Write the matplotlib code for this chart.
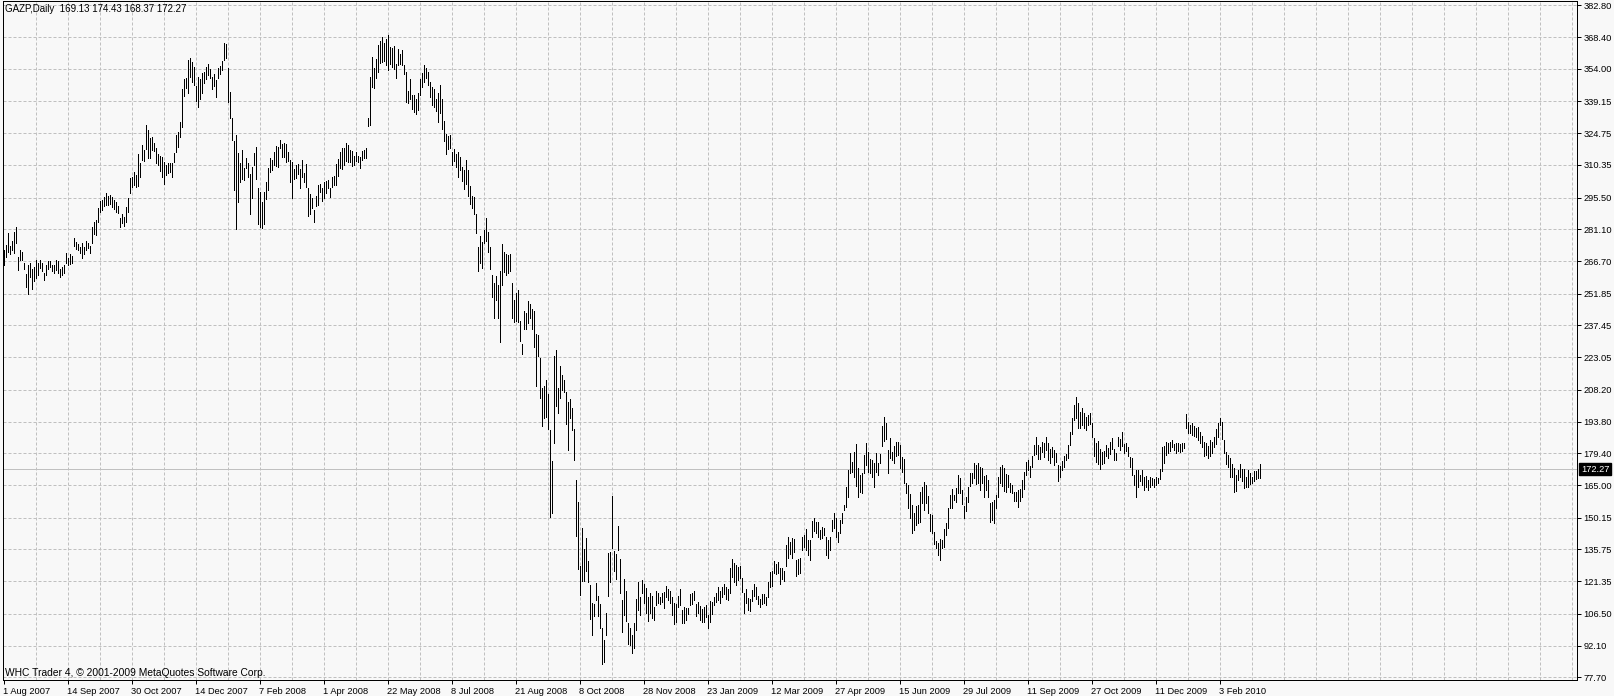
import matplotlib
matplotlib.use("Agg")
import matplotlib.pyplot as plt
from matplotlib.transforms import blended_transform_factory
import numpy as np

# ---------------- data (daily bars, high / low) ----------------
high_a = [271.7, 274.0, 279.3, 273.5, 275.9, 280.0, 282.3, 268.7, 271.7, 270.9,
          266.0, 260.8, 264.9, 265.7, 262.9, 264.1, 267.2, 266.0, 267.2, 265.7,
          261.1, 264.9, 266.7, 266.7, 264.9, 264.7, 267.2, 266.9, 262.9, 264.1,
          264.9, 270.5, 268.2, 269.9, 269.0, 277.0, 275.5, 274.3, 273.2, 274.7,
          273.2, 275.9, 274.7, 273.5, 282.3, 284.6, 285.3, 290.6, 294.1, 294.4,
          295.9, 297.4, 296.2, 296.7, 295.6, 294.4, 293.7, 291.7, 286.1, 288.1,
          286.8, 291.4, 295.2, 304.2, 305.0, 307.3, 305.8, 315.3, 311.1, 319.4,
          317.1, 328.5, 326.2, 322.4, 322.9, 320.1, 317.9, 315.3, 314.4, 314.1,
          311.8, 310.3, 311.4, 311.1, 311.4, 315.9, 323.9, 325.4, 330.0, 344.7,
          349.2, 349.9, 358.0, 358.7, 357.2, 354.6, 346.2, 350.4, 349.2, 351.9,
          352.7, 354.6, 356.2, 353.7, 350.4]
low_a = [264.9, 268.7, 270.9, 269.9, 271.7, 270.2, 274.7, 262.6, 267.2, 267.2,
         262.9, 254.8, 251.7, 259.6, 253.9, 257.8, 258.9, 260.4, 263.4, 262.3,
         258.1, 260.4, 262.9, 263.8, 262.3, 261.4, 262.6, 261.4, 259.6, 260.4,
         261.1, 266.0, 264.7, 265.4, 266.0, 273.5, 272.0, 271.7, 270.5, 267.9,
         269.9, 271.7, 272.5, 270.2, 274.7, 279.0, 278.7, 284.6, 289.1, 289.9,
         291.7, 292.1, 292.1, 292.6, 291.4, 290.2, 289.1, 288.4, 282.0, 283.8,
         282.6, 284.6, 289.1, 297.7, 300.5, 301.2, 300.5, 300.8, 305.0, 312.6,
         312.3, 317.4, 313.3, 313.3, 317.1, 316.8, 311.1, 310.3, 307.7, 305.0,
         301.7, 305.8, 306.5, 307.3, 304.7, 311.8, 316.4, 318.6, 323.2, 327.7,
         341.6, 345.1, 343.1, 350.4, 348.1, 346.6, 339.5, 336.5, 340.1, 342.8,
         347.4, 349.2, 351.2, 349.7, 344.7]

high_b = [351.5, 348.9, 354.5, 355.4, 357.5,
          365.5, 365.1, 354.5, 343.6, 331.5, 321.2, 323.9, 315.6, 311.1, 317.1,
          308.8, 313.3, 311.1, 306.0, 309.5, 315.6, 318.6, 300.0, 298.2, 293.7,
          298.2, 302.7, 308.8, 313.6, 312.6, 316.4, 319.1, 318.6, 321.6, 319.7,
          320.1, 319.7, 316.4, 312.6, 311.5, 308.5, 310.3, 310.6, 308.5, 312.6,
          306.5, 310.6, 299.7, 297.0, 295.2, 289.9, 296.4, 301.2, 301.5, 299.7,
          302.4, 303.0, 303.5, 300.0, 305.0, 305.5, 310.6, 313.0, 316.0, 318.2,
          317.9, 320.1, 319.4, 317.1, 316.7, 314.5, 316.4, 314.5, 314.1, 316.7,
          317.0, 317.9, 331.5, 350.4, 359.5, 354.5, 358.4, 364.8, 366.6, 368.6,
          365.5, 367.5, 369.3, 364.0, 363.3, 364.5, 356.0, 363.0, 360.5, 362.5,
          355.7, 352.7, 343.9, 349.3, 342.1, 342.1, 340.3, 342.8, 349.3, 351.9]
low_b = [346.3, 341.3, 349.9, 351.5, 353.4,
         358.0, 358.7, 339.0, 331.5, 321.6, 299.0, 281.2, 293.4, 302.7, 303.9,
         303.5, 308.8, 305.0, 287.9, 295.2, 310.3, 303.9, 283.4, 282.3, 281.5,
         283.4, 294.9, 299.0, 307.0, 308.0, 310.3, 310.0, 309.5, 317.9, 314.1,
         314.1, 311.8, 312.1, 302.7, 295.2, 303.9, 304.2, 306.1, 299.7, 305.0,
         302.7, 300.5, 287.3, 287.9, 290.6, 284.3, 291.9, 292.1, 298.2, 294.1,
         295.2, 297.4, 299.7, 295.9, 300.5, 301.2, 301.2, 305.5, 308.8, 308.5,
         310.3, 312.1, 311.8, 311.8, 310.0, 310.3, 312.1, 311.5, 309.1, 312.6,
         313.6, 313.6, 328.2, 328.5, 345.9, 345.1, 349.6, 352.7, 356.5, 357.2,
         357.5, 355.7, 353.4, 356.0, 355.0, 353.9, 349.6, 355.7, 356.0, 355.7,
         351.5, 339.0, 338.3, 340.3, 335.7, 334.2, 333.3, 335.3, 342.1, 345.9]

high_c = [355.7, 354.4, 352.6, 347.8, 345.5, 344.6, 340.1, 343.1, 346.4, 340.1,
          330.2, 324.4, 323.4, 323.9, 316.2, 317.6, 315.5, 316.2, 313.7, 309.4,
          307.8, 312.6, 307.8, 300.6, 296.1, 295.7, 288.0, 273.1, 278.1, 275.4,
          280.8, 286.2, 279.9, 273.1, 260.2, 256.6, 259.8, 255.7, 262.0, 274.2,
          270.9, 270.0, 269.5, 270.0, 256.9, 249.0, 252.1, 253.4, 239.5, 228.8,
          244.0, 243.1, 248.5, 247.3, 244.9, 244.0, 233.6, 233.3, 222.8, 209.0,
          209.9, 212.6, 206.3, 189.8, 175.8, 223.4, 226.1, 209.0, 218.9, 214.9,
          212.6, 207.2, 202.7, 204.2, 200.0, 190.5, 167.2, 157.5, 128.2, 145.3,
          135.9, 140.8, 130.5, 119.8, 111.5, 111.2, 120.5, 114.8, 111.2, 100.0,
          94.6, 106.7, 134.1, 134.5, 160.0, 134.9, 133.6, 146.2, 131.3, 112.6,
          122.3, 116.9, 102.2, 100.0, 96.8]
low_c = [347.8, 349.9, 346.7, 341.3, 337.4, 336.5, 334.7, 329.8, 333.8, 326.6,
         321.2, 315.5, 317.6, 318.0, 310.1, 311.9, 309.5, 304.7, 307.8, 302.9,
         299.3, 301.8, 296.1, 292.5, 290.7, 288.0, 279.6, 262.3, 265.6, 263.4,
         274.9, 276.0, 270.6, 262.9, 250.3, 240.8, 249.0, 240.8, 230.0, 255.7,
         261.6, 260.2, 261.1, 262.0, 240.8, 239.0, 239.5, 239.0, 230.5, 224.6,
         235.9, 235.9, 238.6, 240.8, 235.9, 227.5, 209.9, 223.4, 204.5, 191.6,
         195.2, 195.9, 190.5, 150.3, 152.5, 183.9, 200.9, 197.7, 204.5, 208.1,
         207.2, 192.9, 180.8, 195.5, 189.8, 176.2, 141.7, 127.0, 115.1, 121.6,
         121.6, 125.9, 121.0, 104.0, 96.8, 105.4, 113.0, 105.4, 100.0, 83.9,
         84.6, 96.8, 114.8, 121.0, 136.3, 125.9, 122.3, 135.4, 116.2, 98.2,
         106.1, 103.1, 92.9, 92.3, 88.7]

high_d = [102.5, 113.1, 121.1, 114.3, 121.9,
          120.1, 118.1, 114.3, 115.8, 114.6, 109.5, 117.0, 115.8, 114.0, 116.1,
          116.6, 119.2, 117.6, 117.0, 114.0, 111.3, 111.0, 114.6, 117.6, 108.3,
          109.5, 109.0, 109.0, 115.5, 116.1, 117.0, 111.0, 112.0, 110.1, 108.6,
          109.8, 110.5, 106.0, 112.5, 112.0, 114.3, 115.8, 118.5, 117.0, 118.9,
          120.1, 118.5, 117.6, 127.2, 131.3, 129.7, 128.7, 127.9, 128.2, 122.6,
          116.1, 117.6, 113.6, 113.1, 117.3, 120.1, 118.9, 114.6, 113.1, 115.5,
          115.5, 114.3, 121.1, 125.7, 126.1, 130.7, 129.1, 130.2, 127.2, 127.2,
          126.1, 137.8, 141.5, 139.3, 140.8, 140.3, 131.0, 131.3, 131.7, 141.2,
          142.3, 144.9, 140.0, 140.0, 148.8, 149.9, 148.4, 148.4, 144.6, 146.1,
          145.3, 141.6, 140.0, 141.6, 149.1, 152.1, 149.9, 143.8, 149.1, 152.4]
low_d = [90.9, 99.2, 108.3, 106.0, 115.8,
         111.6, 106.7, 103.4, 106.7, 104.5, 103.7, 110.5, 111.6, 111.0, 112.0,
         109.0, 114.3, 112.8, 111.3, 106.0, 101.9, 103.0, 109.8, 110.5, 102.2,
         102.5, 103.7, 106.4, 110.5, 111.0, 112.8, 105.5, 107.1, 103.7, 103.0,
         103.0, 104.9, 99.9, 103.0, 106.4, 110.5, 112.0, 112.8, 111.6, 114.3,
         115.5, 113.1, 112.8, 115.8, 123.4, 121.1, 119.6, 121.9, 122.6, 116.6,
         107.1, 111.6, 108.3, 108.0, 112.5, 114.6, 113.1, 111.0, 109.5, 111.0,
         111.6, 110.5, 114.3, 118.5, 119.2, 125.2, 124.6, 125.2, 120.1, 122.2,
         121.6, 128.2, 131.7, 133.7, 131.7, 134.7, 123.7, 124.6, 124.9, 135.5,
         137.0, 135.5, 133.2, 131.0, 141.2, 144.3, 143.1, 141.6, 140.3, 140.8,
         142.3, 133.2, 131.7, 135.5, 144.3, 145.3, 141.6, 139.3, 143.1, 147.6]

high_e = [155.9, 164.2, 171.8, 179.4, 175.6, 180.1, 183.6, 172.6, 169.5, 170.3,
          178.6, 183.9, 180.1, 176.7, 176.3, 174.8, 179.4, 174.8, 179.1, 191.8,
          195.7, 193.3, 180.9, 186.2, 180.1, 182.7, 184.7, 184.7, 183.2, 177.9,
          176.7, 166.1, 165.0, 160.9, 155.9, 152.4, 155.5, 155.9, 162.0, 164.0,
          166.5, 165.0, 160.0, 151.8, 151.4, 143.8, 139.7, 138.8, 140.3, 140.0,
          144.9, 147.9, 154.4, 160.5, 163.0, 160.5, 163.5, 169.5, 168.0, 162.7,
          155.5, 159.4, 164.2, 170.3, 170.3, 174.8, 174.1, 174.8, 173.0, 172.6,
          169.1, 169.5, 167.3, 157.0, 157.4, 158.2, 160.5, 168.5, 173.0, 174.1,
          172.6, 170.0, 169.5, 166.1, 165.0, 162.0, 162.0, 162.7, 163.0, 167.3,
          171.1, 175.6, 176.3, 173.6, 178.2, 183.2, 186.9, 183.2, 182.1, 184.7,
          183.9, 186.6, 184.2, 181.2, 182.4]
low_e = [153.7, 155.2, 159.7, 170.3, 171.1, 168.8, 164.6, 159.7, 162.0, 161.2,
         170.3, 174.1, 171.1, 170.6, 168.5, 164.2, 171.1, 169.5, 175.2, 182.7,
         185.1, 185.7, 170.3, 177.1, 176.3, 175.2, 178.2, 178.6, 172.6, 171.1,
         165.8, 161.2, 154.4, 149.9, 143.1, 144.6, 146.8, 147.6, 148.4, 156.7,
         153.7, 156.7, 152.4, 144.3, 143.4, 138.2, 136.3, 133.3, 130.9, 136.3,
         136.7, 142.3, 145.3, 154.4, 154.4, 158.2, 157.4, 161.2, 161.2, 156.4,
         149.9, 153.3, 157.4, 164.6, 165.8, 168.0, 165.5, 165.8, 162.7, 165.8,
         159.4, 162.7, 159.7, 148.4, 149.1, 147.9, 154.4, 159.7, 165.8, 164.6,
         162.4, 162.0, 164.2, 162.0, 161.2, 157.9, 157.9, 154.9, 157.9, 159.7,
         163.0, 169.5, 171.8, 168.8, 173.0, 178.6, 179.1, 176.7, 176.7, 180.1,
         177.6, 180.9, 176.3, 174.8, 177.6]

high_f = [180.9, 179.7, 174.1, 173.6, 176.1,
          178.2, 179.1, 183.2, 189.2, 195.3, 201.3, 205.1, 202.1, 198.3, 199.8,
          197.5, 195.7, 196.8, 197.8, 193.0, 186.2, 183.9, 185.1, 181.2, 180.1,
          180.6, 183.2, 181.7, 184.7, 186.2, 181.2, 179.7, 186.6, 185.7, 189.2,
          183.6, 184.2, 182.1, 177.9, 177.1, 169.5, 171.8, 171.8, 169.5, 171.8,
          168.5, 169.1, 167.3, 168.5, 168.0, 167.6, 168.5, 168.0, 172.1, 182.1,
          182.7, 184.7, 183.9, 184.7, 185.4, 183.6, 183.9, 183.9, 183.6, 183.9,
          183.9, 197.2, 193.8, 192.2, 193.0, 191.8, 190.7, 191.2, 189.2, 187.3,
          184.7, 184.2, 182.7, 185.4, 184.7, 187.0, 190.3, 193.0, 195.3, 193.8,
          185.4, 180.1, 178.6, 177.1, 174.5, 172.6, 169.5, 171.8, 174.5, 172.1,
          172.1, 168.5, 171.8, 170.3, 168.8, 171.5, 171.5, 172.1, 174.43]
low_f = [174.1, 175.6, 167.0, 168.5, 171.8,
         173.0, 176.4, 177.1, 183.2, 188.2, 194.5, 195.3, 190.7, 190.7, 192.2,
         190.7, 190.0, 192.2, 192.7, 186.6, 178.2, 175.6, 174.5, 172.4, 174.5,
         175.1, 178.2, 177.1, 179.1, 181.2, 176.4, 176.4, 182.7, 180.9, 182.7,
         179.4, 180.6, 178.2, 173.3, 169.5, 165.0, 159.4, 164.2, 167.0, 165.0,
         162.7, 163.9, 162.7, 164.2, 165.0, 164.2, 165.0, 165.8, 167.6, 171.5,
         175.1, 178.6, 179.7, 180.6, 182.4, 180.9, 179.4, 180.6, 180.1, 180.6,
         181.7, 190.7, 188.8, 188.5, 187.7, 187.3, 187.0, 185.4, 183.9, 182.1,
         178.2, 178.6, 177.1, 178.2, 179.7, 182.1, 183.6, 186.6, 192.2, 185.7,
         179.4, 174.5, 173.0, 168.5, 168.5, 162.0, 162.4, 167.3, 168.5, 167.0,
         163.5, 164.2, 164.2, 165.5, 166.1, 167.0, 167.6, 168.0, 168.37]

last_ohlc = [169.13, 174.43, 168.37, 172.27]
symbol = "GAZP,Daily"
price_labels = ["382.80", "368.40", "354.00", "339.15", "324.75", "310.35",
                "295.50", "281.10", "266.70", "251.85", "237.45", "223.05",
                "208.20", "193.80", "179.40", "165.00", "150.15", "135.75",
                "121.35", "106.50", "92.10", "77.70"]
date_labels = ["1 Aug 2007", "14 Sep 2007", "30 Oct 2007", "14 Dec 2007",
               "7 Feb 2008", "1 Apr 2008", "22 May 2008", "8 Jul 2008",
               "21 Aug 2008", "8 Oct 2008", "28 Nov 2008", "23 Jan 2009",
               "12 Mar 2009", "27 Apr 2009", "15 Jun 2009", "29 Jul 2009",
               "11 Sep 2009", "27 Oct 2009", "11 Dec 2009", "3 Feb 2010"]
copyright_text = "WHC Trader 4, \u00a9 2001-2009 MetaQuotes Software Corp."

# ---------------- assemble ----------------
high = np.array(high_a + high_b + high_c + high_d + high_e + high_f)
low = np.array(low_a + low_b + low_c + low_d + low_e + low_f)
n = min(len(high), len(low))
high, low = high[:n], low[:n]
idx = np.arange(n)

# ---------------- figure / layout ----------------
W, H, DPI = 1614, 696, 100
BG = "#F8F8F8"
GRID = "#C0C0C0"
PX = 72.0 / DPI  # one pixel in points
FONT = "Liberation Sans"
FS = 6.7

fig = plt.figure(figsize=(W / DPI, H / DPI), dpi=DPI, facecolor=BG)
x0_px, x1_px = 2.5, 1576.5
yt_px, yb_px = 1.0, 680.0
ax = fig.add_axes([x0_px / W, 1 - yb_px / H, (x1_px - x0_px) / W, (yb_px - yt_px) / H])
ax.set_facecolor(BG)

# vertical scale: price per pixel, reference rows of the end labels
top_val = float(price_labels[0])
bot_val = float(price_labels[-1])
row_top, row_bot = 5.3, 677.3
ppp = (top_val - bot_val) / (row_bot - row_top)
ax.set_ylim(top_val - (yb_px - row_top) * ppp, top_val + (row_top - yt_px) * ppp)
ax.set_xlim(-0.5, (x1_px - x0_px) / 2 - 0.5)

# grid
yvals = [float(s) for s in price_labels]
xmax = ax.get_xlim()[1]
for v in yvals:
    ax.axhline(v, color=GRID, lw=PX, ls=(0, (3, 2)), zorder=1)
for gx in np.arange(16, xmax, 16):
    ax.axvline(gx, color=GRID, lw=PX, ls=(0, (3, 2)), zorder=1)

# last price line
ax.axhline(last_ohlc[3], color=GRID, lw=PX, zorder=1.5)

# bars (1 px wide)
ax.vlines(idx, low, high, colors="black", linewidth=PX, antialiased=False, zorder=3)

# spines
for sp in ax.spines.values():
    sp.set_color("black")
    sp.set_linewidth(PX)

# y axis on the right
ax.yaxis.tick_right()
ax.set_yticks(yvals)
ax.set_yticklabels(price_labels)
ax.tick_params(axis="y", length=4 * PX, width=PX, colors="black", pad=2,
               labelsize=FS)
for t in ax.get_yticklabels():
    t.set_fontfamily(FONT)

# x ticks
xt = np.arange(len(date_labels)) * 32
ax.set_xticks(xt)
ax.set_xticklabels([])
ax.tick_params(axis="x", length=4 * PX, width=PX, colors="black")
tr = blended_transform_factory(ax.transData, fig.transFigure)
for xv, lab in zip(xt, date_labels):
    ax.text(xv - 0.3, 1 - 691.5 / H, lab, transform=tr, ha="left", va="center",
            fontsize=FS, family=FONT, color="black")

# last price box on the right axis
tr_y = blended_transform_factory(fig.transFigure, ax.transData)
ax.text(1581 / W, last_ohlc[3], f"{last_ohlc[3]:.2f}", transform=tr_y,
        ha="left", va="center", fontsize=FS, family=FONT, color="white",
        bbox=dict(boxstyle="square,pad=0.18", fc="black", ec="black"),
        zorder=10, clip_on=False)

# header and copyright
fig.text(5 / W, 1 - 8.5 / H,
         symbol + "  " + " ".join(f"{v:.2f}" for v in last_ohlc),
         ha="left", va="center", fontsize=7.0, family=FONT, color="black")
fig.text(5 / W, 1 - 672.5 / H, copyright_text, ha="left", va="center",
         fontsize=7.4, family=FONT, color="black")

fig.savefig("out.png", dpi=DPI, facecolor=BG)
